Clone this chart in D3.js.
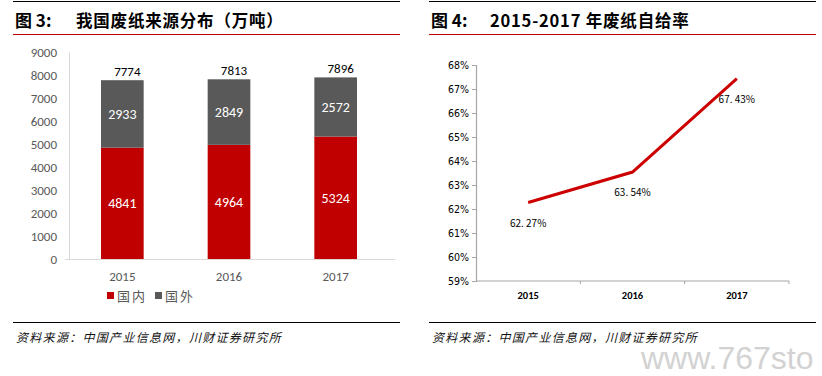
<!DOCTYPE html>
<html>
<head>
<meta charset="utf-8">
<script src="https://cdn.jsdelivr.net/npm/d3@7"></script>
<style>
  html, body { margin: 0; padding: 0; background: #fff; }
  svg { display: block; }
</style>
</head>
<body>
<div id="chart"></div>
<script>
// Figure 3: waste paper sources (10k tonnes)
const years = ["2015", "2016", "2017"];
const domestic = [4841, 4964, 5324];
const imported = [2933, 2849, 2572];
const totals = [7774, 7813, 7896];
const barTicks = [0, 1000, 2000, 3000, 4000, 5000, 6000, 7000, 8000, 9000];

// Figure 4: self-sufficiency rate (%)
const rate = [62.27, 63.54, 67.43];
const rateTicks = [59, 60, 61, 62, 63, 64, 65, 66, 67, 68];

const W = 822, H = 376;
const RED = "#c00000", GREY = "#595959";
const CJK = "'Noto Sans CJK SC', sans-serif";
const LAT = "Calibri, Carlito, 'Liberation Sans', 'Noto Sans', sans-serif";

const svg = d3.select("#chart").append("svg")
  .attr("width", W).attr("height", H);

// panel frame: top rule, title, red rule, bottom rule, source
function panel(x0, x1, num, title, titleX) {
  svg.append("line").attr("x1", x0).attr("x2", x1).attr("y1", 1.5).attr("y2", 1.5)
    .attr("stroke", "#000").attr("stroke-width", 1);
  svg.append("text").attr("x", x0 + 2).attr("y", 27)
    .attr("font-family", CJK).attr("font-weight", "bold").attr("font-size", 17)
    .text("图 " + num + ":");
  svg.append("text").attr("x", titleX).attr("y", 27)
    .attr("font-family", CJK).attr("font-weight", "bold").attr("font-size", 16.5)
    .attr("letter-spacing", 0.8)
    .text(title);
  svg.append("line").attr("x1", x0).attr("x2", x1).attr("y1", 34.5).attr("y2", 34.5)
    .attr("stroke", RED).attr("stroke-width", 1);
  svg.append("line").attr("x1", x0).attr("x2", x1).attr("y1", 322.5).attr("y2", 322.5)
    .attr("stroke", "#000").attr("stroke-width", 1);
  svg.append("text").attr("x", x0 + 3).attr("y", 342)
    .attr("font-family", CJK).attr("font-style", "italic").attr("font-size", 12)
    .attr("letter-spacing", 1.3).attr("fill", "#111")
    .text("资料来源：中国产业信息网，川财证券研究所");
}
panel(13, 400, 3, "我国废纸来源分布（万吨）", 76);
panel(429, 816, 4, "2015-2017 年废纸自给率", 490);

// ---- left: stacked bars ----
const x1 = d3.scaleBand().domain(years).range([69, 389]).paddingInner(0.6).paddingOuter(0.3);
const y1 = d3.scaleLinear().domain([0, 9000]).range([259, 52]);

const g1 = svg.append("g");
const ax1 = g1.append("g").attr("transform", "translate(69,0)")
  .call(d3.axisLeft(y1).tickValues(barTicks).tickSize(0).tickPadding(12).tickFormat(d3.format("d")));
ax1.select(".domain").attr("stroke", "#d9d9d9");
ax1.selectAll("text").attr("font-family", LAT).attr("font-size", 13).attr("fill", GREY);

const bx = g1.append("g").attr("transform", "translate(0,259)")
  .call(d3.axisBottom(x1).tickSize(0).tickPadding(13));
bx.select(".domain").attr("stroke", "#d9d9d9").attr("d", "M65,0.5H395");
bx.selectAll("text").attr("font-family", LAT).attr("font-size", 13).attr("fill", GREY);

g1.selectAll("rect.dom").data(years).join("rect")
  .attr("x", d => x1(d)).attr("width", x1.bandwidth())
  .attr("y", (d, i) => y1(domestic[i]))
  .attr("height", (d, i) => y1(0) - y1(domestic[i]))
  .attr("fill", RED);
g1.selectAll("rect.imp").data(years).join("rect")
  .attr("x", d => x1(d)).attr("width", x1.bandwidth())
  .attr("y", (d, i) => y1(domestic[i] + imported[i]))
  .attr("height", (d, i) => y1(domestic[i]) - y1(domestic[i] + imported[i]))
  .attr("fill", GREY);

const lbl = (sel) => sel.attr("font-family", LAT).attr("font-size", 14).attr("text-anchor", "middle");
g1.selectAll("text.dl").data(years).join("text").call(lbl)
  .attr("x", d => x1(d) + x1.bandwidth() / 2)
  .attr("y", (d, i) => y1(domestic[i] / 2) + 5)
  .attr("fill", "#fff").text((d, i) => domestic[i]);
g1.selectAll("text.il").data(years).join("text").call(lbl)
  .attr("x", d => x1(d) + x1.bandwidth() / 2)
  .attr("y", (d, i) => y1(domestic[i] + imported[i] / 2) + 5)
  .attr("fill", "#fff").text((d, i) => imported[i]);
g1.selectAll("text.tl").data(years).join("text").call(lbl)
  .attr("x", d => x1(d) + x1.bandwidth() / 2 + 5)
  .attr("y", (d, i) => y1(totals[i]) - 4)
  .attr("font-size", 13).attr("fill", "#000").text((d, i) => totals[i]);

// legend
const legend = [["国内", RED], ["国外", GREY]];
legend.forEach(([name, c], i) => {
  const lx = 107 + i * 48;
  svg.append("rect").attr("x", lx).attr("y", 292).attr("width", 7).attr("height", 7).attr("fill", c);
  svg.append("text").attr("x", lx + 10).attr("y", 301)
    .attr("font-family", CJK).attr("font-size", 13).attr("letter-spacing", 2)
    .attr("fill", GREY).text(name);
});

// ---- right: line chart ----
const x2 = d3.scaleBand().domain(years).range([476, 789]);
const y2 = d3.scaleLinear().domain([59, 68]).range([281, 65]);
const g2 = svg.append("g");

const ax2 = g2.append("g").attr("transform", "translate(476,0)")
  .call(d3.axisLeft(y2).tickValues(rateTicks).tickSize(4).tickPadding(3).tickFormat(d => d + "%"));
ax2.select(".domain").attr("stroke", "#a6a6a6").attr("stroke-width", 1.2);
ax2.selectAll("line").attr("stroke", "#a6a6a6");
ax2.selectAll("text").attr("font-family", "'Liberation Sans Narrow', 'DejaVu Sans Condensed', sans-serif")
  .attr("font-size", 10.5).attr("fill", "#000");

const bx2 = g2.append("g").attr("transform", "translate(0,281)");
bx2.append("line").attr("x1", 476).attr("x2", 789).attr("stroke", "#a6a6a6").attr("stroke-width", 1.2);
bx2.selectAll("line.t").data(years).join("line")
  .attr("x1", d => x2(d) + x2.bandwidth()).attr("x2", d => x2(d) + x2.bandwidth())
  .attr("y1", 0).attr("y2", 3).attr("stroke", "#a6a6a6");
bx2.selectAll("text").data(years).join("text")
  .attr("x", d => x2(d) + x2.bandwidth() / 2).attr("y", 18)
  .attr("text-anchor", "middle").attr("font-family", LAT).attr("font-size", 10.5)
  .attr("font-weight", "bold").attr("fill", "#000").text(d => d);

const line = d3.line()
  .x((d, i) => x2(years[i]) + x2.bandwidth() / 2)
  .y(d => y2(d));
g2.append("path").datum(rate).attr("d", line)
  .attr("fill", "none").attr("stroke", "#cc0000").attr("stroke-width", 3);

g2.selectAll("text.rl").data(rate).join("text")
  .attr("x", (d, i) => x2(years[i]) + x2.bandwidth() / 2)
  .attr("y", d => y2(d) + 24)
  .attr("text-anchor", "middle").attr("font-family", CJK).attr("font-size", 10)
  .attr("fill", "#000")
  .text(d => d.toFixed(2).replace(".", ". ") + "%");

// watermark
svg.append("text").attr("x", 641).attr("y", 369)
  .attr("font-family", "'Liberation Sans', sans-serif").attr("font-size", 32)
  .attr("fill", "#d2d2d2").text("www.767sto");
</script>
</body>
</html>
